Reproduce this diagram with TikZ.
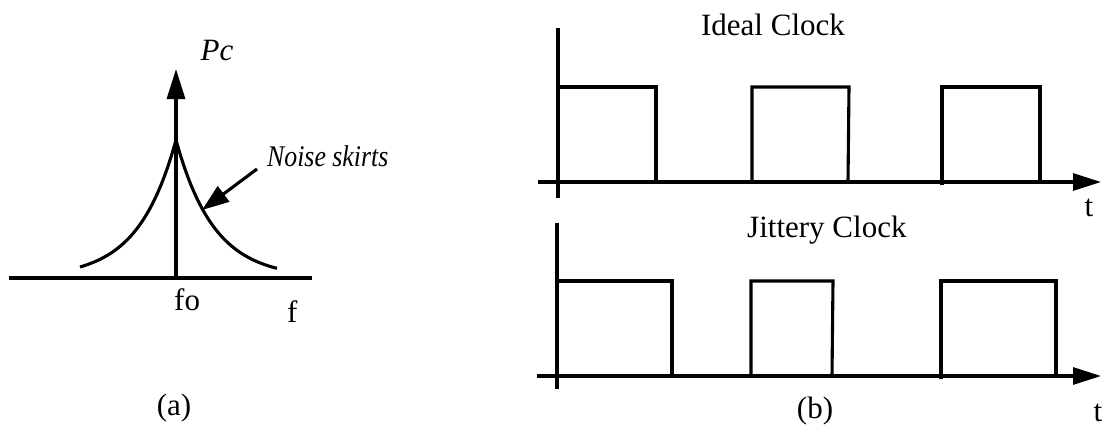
\documentclass[tikz,border=0pt]{standalone}
\usepackage{fontspec}
\setmainfont{Liberation Serif}
\usetikzlibrary{arrows.meta}
\begin{document}
\begin{tikzpicture}[x=1pt,y=-1pt,
  wire/.style={line width=3.1pt},
  lbl/.style={inner sep=0pt,font=\fontsize{31}{36}\selectfont},
  bigarrow/.style={wire,-{Triangle[length=30pt,width=18pt]}},
  axisarrow/.style={wire,-{Triangle[length=28pt,width=17pt]}}]
\useasboundingbox (0,0) rectangle (1102,426);
% ---------- (a) spectrum ----------
\coordinate (fl) at (9,278);
\coordinate (fr) at (312,278);
\coordinate (f0) at (176,278);
\coordinate (ptop) at (176,69);
\coordinate (peak) at (176,140);
\draw[wire] (fl) -- (fr);
\draw[bigarrow] (f0) -- (ptop);
\draw[wire] plot[domain=96:0,samples=60] ({176-\x},{278-138*exp(-\x/38)});
\draw[wire] plot[domain=0:101,samples=60] ({176+\x},{278-138*exp(-\x/38)});
\node[lbl,anchor=base] (pc) at (217,60) {\itshape Pc};
\node[lbl,anchor=base west] (ns) at (267,166) {\scalebox{0.86}[1]{\fontsize{30}{36}\selectfont\itshape Noise skirts}};
\coordinate (nsa) at (257,169);
\coordinate (nsb) at (202,210);
\draw[wire,-{Triangle[length=27pt,width=19pt]}] (nsa) -- (nsb);
\node[lbl,anchor=base west] (fo) at (174,310) {fo};
\node[lbl,anchor=base west] (f) at (287,322) {f};
\node[lbl,anchor=base] (a) at (174,415) {(a)};
% ---------- (b) ideal clock ----------
\coordinate (ya1) at (558,28);
\coordinate (ya2) at (558,198);
\coordinate (xa1) at (538,182);
\coordinate (xa2) at (1101,182);
\draw[wire] (ya1) -- (ya2);
\draw[axisarrow] (xa1) -- (xa2);
\draw[wire] (558,87) -- (656,87) -- (656,182);
\draw[wire] (752,182) -- (752,87) -- (849,87) -- (848,182);
\draw[wire] (942,185) -- (942,87) -- (1040,87) -- (1040,182);
\node[lbl,anchor=base] (ideal) at (773,35) {Ideal Clock};
\node[lbl,anchor=base] (t1) at (1089,216) {t};
% ---------- (b) jittery clock ----------
\coordinate (yb1) at (557,223);
\coordinate (yb2) at (557,389);
\coordinate (xb1) at (537,376);
\coordinate (xb2) at (1101,376);
\draw[wire] (yb1) -- (yb2);
\draw[axisarrow] (xb1) -- (xb2);
\draw[wire] (557,281) -- (672,281) -- (672,376);
\draw[wire] (751,376) -- (751,281) -- (833,281) -- (832,376);
\draw[wire] (941,379) -- (941,281) -- (1056,281) -- (1056,376);
\node[lbl,anchor=base west] (jit) at (747,237) {Jittery Clock};
\node[lbl,anchor=base] (t2) at (1098,421) {t};
\node[lbl,anchor=base] (b) at (815,418) {(b)};
\end{tikzpicture}
\end{document}
